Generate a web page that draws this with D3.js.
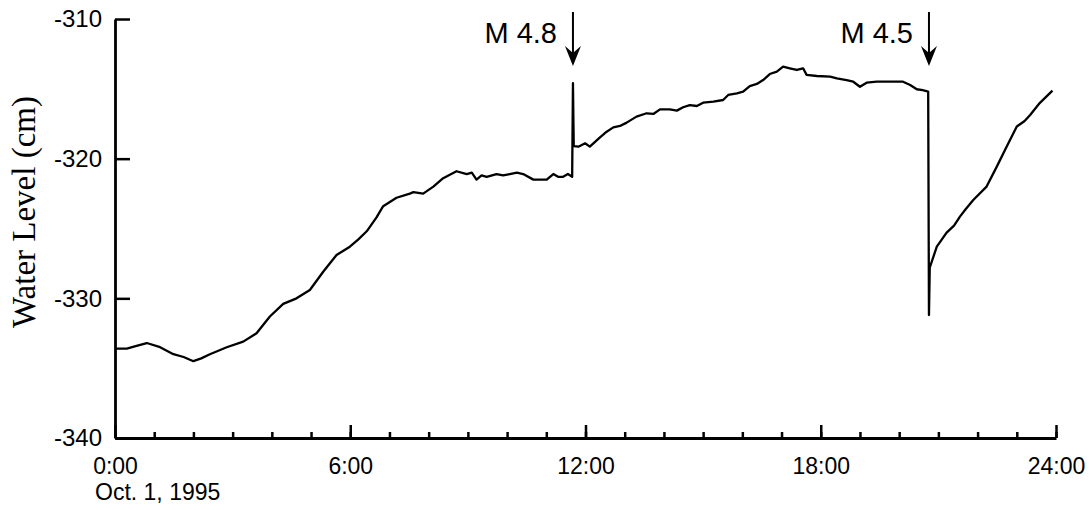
<!DOCTYPE html>
<html>
<head>
<meta charset="utf-8">
<script src="https://cdn.jsdelivr.net/npm/d3@7"></script>
<style>
    body { margin: 0; background: #fff; }
    svg { display: block; }
    .domain, .tick line { stroke: #000; }
</style>
</head>
<body>
<div id="chart"></div>
<script>
// Water level record, hours after 0:00 Oct. 1, 1995 (cm)
const hours = [
    0, 0.3, 0.55, 0.81, 1.15, 1.49, 1.75, 2.0, 2.2, 2.42, 2.85, 3.27, 3.61, 3.95,
    4.29, 4.63, 4.97, 5.31, 5.65, 5.99, 6.2, 6.42, 6.67, 6.84, 7.18, 7.52, 7.61,
    7.86, 8.12, 8.37, 8.71, 8.97, 9.1, 9.22, 9.35, 9.48, 9.73, 9.9, 10.07, 10.25,
    10.41, 10.67, 11.01, 11.18, 11.3, 11.43, 11.55, 11.66,
    11.68, 11.70, 11.82, 11.99, 12.11, 12.37, 12.54, 12.71, 12.88, 13.05, 13.3,
    13.56, 13.73, 13.9, 14.15, 14.33, 14.49, 14.66, 14.84, 15.0, 15.26, 15.51,
    15.64, 15.86, 16.02, 16.19, 16.37, 16.53, 16.7, 16.88, 17.04, 17.21, 17.39,
    17.55, 17.64, 17.9, 18.24, 18.41, 18.66, 18.83, 19.0, 19.17, 19.43, 19.77,
    20.1, 20.28, 20.45, 20.6, 20.74,
    20.76, 20.78, 20.96, 21.21, 21.4, 21.55, 21.7, 21.89, 22.23, 22.49, 22.74,
    23.0, 23.2, 23.34, 23.59, 23.91
];
const level = [
    -333.6, -333.6, -333.4, -333.2, -333.5, -334.0, -334.2, -334.5, -334.3, -334.0,
    -333.5, -333.1, -332.5, -331.3, -330.4, -330.0, -329.4, -328.1, -326.9, -326.3,
    -325.8, -325.2, -324.2, -323.4, -322.8, -322.5, -322.4, -322.5, -322.0, -321.4,
    -320.9, -321.1, -321.0, -321.5, -321.2, -321.3, -321.1, -321.2, -321.1, -321.0,
    -321.1, -321.5, -321.5, -321.1, -321.3, -321.3, -321.1, -321.3,
    -314.6, -319.1, -319.14, -318.9, -319.14, -318.47, -318.07, -317.76, -317.66,
    -317.42, -316.99, -316.75, -316.8, -316.47, -316.47, -316.56, -316.32, -316.16,
    -316.23, -315.99, -315.92, -315.8, -315.44, -315.32, -315.2, -314.8, -314.65,
    -314.37, -313.94, -313.77, -313.41, -313.53, -313.65, -313.53, -314.0, -314.08,
    -314.13, -314.25, -314.37, -314.49, -314.85, -314.56, -314.49, -314.49, -314.49,
    -314.72, -315.03, -315.1, -315.2,
    -331.2, -327.8, -326.3, -325.3, -324.8, -324.15, -323.6, -322.96, -322.0,
    -320.57, -319.14, -317.7, -317.3, -316.87, -316.0, -315.13
];

const yTicks = [-340, -330, -320, -310];
const majorHours = [0, 6, 12, 18, 24];
const majorLabels = ["0:00", "6:00", "12:00", "18:00", "24:00"];
const minorHours = d3.range(0, 25);

const quakeHours = [11.68, 20.76];
const quakeLabels = ["M 4.8", "M 4.5"];

const width = 1091, height = 510;
const margin = { top: 19, right: 35, bottom: 72, left: 115 };
const sans = "Liberation Sans, Arial, Helvetica, sans-serif";

const svg = d3.select("#chart").append("svg")
    .attr("width", width)
    .attr("height", height);

const x = d3.scaleLinear()
    .domain([0, 24])
    .range([margin.left, width - margin.right]);

const y = d3.scaleLinear()
    .domain([-340, -310])
    .range([height - margin.bottom, margin.top]);

// minor hourly ticks
svg.append("g")
    .attr("transform", `translate(0,${y(-340)})`)
    .call(d3.axisBottom(x).tickValues(minorHours).tickSize(-6).tickFormat(""))
    .call(g => g.selectAll(".tick line").attr("stroke-width", 2.5))
    .call(g => g.select(".domain").remove());

// major ticks with labels
svg.append("g")
    .attr("transform", `translate(0,${y(-340)})`)
    .call(d3.axisBottom(x).tickValues(majorHours).tickSize(-13).tickSizeOuter(0)
        .tickPadding(20).tickFormat((d, i) => majorLabels[i]))
    .call(g => g.select(".domain").attr("stroke-width", 2.8))
    .call(g => g.selectAll(".tick line").attr("stroke-width", 2.5))
    .call(g => g.selectAll(".tick text")
        .style("font-family", sans).style("font-size", "23px").attr("fill", "#000"));

svg.append("text")
    .attr("x", 95)
    .attr("y", 500)
    .style("font-family", sans)
    .style("font-size", "23px")
    .text("Oct. 1, 1995");

// y axis
svg.append("g")
    .attr("transform", `translate(${x(0)},0)`)
    .call(d3.axisLeft(y).tickValues(yTicks).tickSize(-15).tickSizeOuter(0)
        .tickPadding(13))
    .call(g => g.select(".domain").attr("stroke-width", 2.8))
    .call(g => g.selectAll(".tick line").attr("stroke-width", 2.5))
    .call(g => g.selectAll(".tick text")
        .text(d => "-" + Math.abs(d))
        .style("font-family", sans).style("font-size", "24px").attr("fill", "#000"));

svg.append("text")
    .attr("transform", "translate(35,212) rotate(-90)")
    .attr("text-anchor", "middle")
    .style("font-family", "Liberation Serif, Times New Roman, serif")
    .style("font-size", "33px")
    .text("Water Level (cm)");

// record
const line = d3.line()
    .x((d, i) => x(hours[i]))
    .y(d => y(d));

svg.append("path")
    .datum(level)
    .attr("fill", "none")
    .attr("stroke", "#000")
    .attr("stroke-width", 2.3)
    .attr("stroke-linejoin", "round")
    .attr("d", line);

// earthquake arrows
const quakes = svg.selectAll(".quake")
    .data(quakeHours)
    .enter().append("g")
    .attr("class", "quake")
    .attr("transform", d => `translate(${x(d)},0)`);

quakes.append("line")
    .attr("y1", 12)
    .attr("y2", 58)
    .attr("stroke", "#000")
    .attr("stroke-width", 2);

quakes.append("path")
    .attr("d", "M0,66 L-8,46 L0,53 L8,46 Z")
    .attr("fill", "#000");

quakes.append("text")
    .attr("x", -16)
    .attr("y", 43)
    .attr("text-anchor", "end")
    .style("font-family", sans)
    .style("font-size", "29px")
    .text((d, i) => quakeLabels[i]);
</script>
</body>
</html>
